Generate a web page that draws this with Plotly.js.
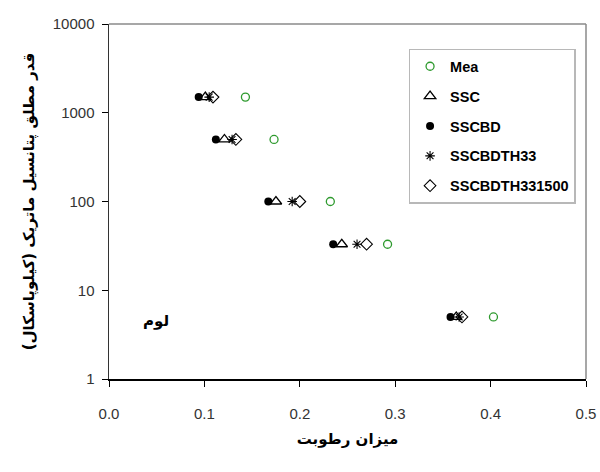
<!DOCTYPE html>
<html>
<head>
<meta charset="utf-8">
<script src="https://cdn.plot.ly/plotly-3.0.1.min.js"></script>
<style>html,body{margin:0;padding:0;background:#fff;}#chart{width:600px;height:472px;}</style>
</head>
<body>
<div id="chart"></div>
<script>
// Matric potential (kPa) levels
const potential = [1500, 500, 100, 33, 5];
// Moisture content for each series
const mea          = [0.143, 0.173, 0.232, 0.292, 0.403];
const ssc          = [0.101, 0.121, 0.175, 0.244, 0.364];
const sscbd        = [0.094, 0.112, 0.167, 0.235, 0.358];
const sscbdth33    = [0.105, 0.129, 0.192, 0.260, 0.367];
const sscbdth331500= [0.109, 0.133, 0.200, 0.270, 0.370];
const seriesNames = ["Mea", "SSC", "SSCBD", "SSCBDTH33", "SSCBDTH331500"];
const xTicks = [0, 0.1, 0.2, 0.3, 0.4, 0.5];
const xTickText = ["0.0", "0.1", "0.2", "0.3", "0.4", "0.5"];
const yTicks = [1, 10, 100, 1000, 10000];
const yTickText = ["1", "10", "100", "1000", "10000"];

const seriesX = [mea, ssc, sscbd, sscbdth33, sscbdth331500];
const styles = [
  {symbol: "circle-open", color: "#2e9a2e", size: 8, line: {color: "#2e9a2e", width: 1.3}},
  {symbol: "triangle-up-open", color: "#000", size: 10, line: {color: "#000", width: 1.3}},
  {symbol: "circle", color: "#000", size: 8, line: {color: "#000", width: 0}},
  {symbol: "asterisk-open", color: "#000", size: 8, line: {color: "#000", width: 1.1}},
  {symbol: "diamond-open", color: "#000", size: 9, line: {color: "#000", width: 1.1}}
];
const traces = seriesX.map((xs, i) => ({
  type: "scatter", mode: "markers", name: seriesNames[i],
  x: xs, y: potential, legendgroup: "g" + i,
  marker: {symbol: styles[i].symbol, color: styles[i].color, size: styles[i].size, line: styles[i].line},
  cliponaxis: false
}));

const tickFont = {family: "Liberation Sans, Arial, sans-serif", size: 15, color: "#333"};
const faFont = {family: "DejaVu Sans, Noto Sans, sans-serif", size: 15, color: "#000", weight: "bold"};

const layout = {
  width: 600, height: 472,
  margin: {l: 109, r: 14, t: 24, b: 93},
  paper_bgcolor: "#ffffff", plot_bgcolor: "#ffffff",
  font: {family: "Liberation Sans, Arial, sans-serif", size: 13, color: "#222"},
  showlegend: true,
  legend: {
    x: 0.628, y: 0.93, xanchor: "left", yanchor: "top",
    bgcolor: "#ffffff", bordercolor: "#b8b8b8", borderwidth: 1.5,
    font: {family: "Liberation Sans, Arial, sans-serif", size: 14.5, color: "#000", weight: "bold"},
    tracegroupgap: 8
  },
  xaxis: {
    range: [0, 0.5], tickvals: xTicks, ticktext: xTickText,
    showgrid: false, zeroline: false,
    showline: true, linecolor: "#000", linewidth: 2,
    ticks: "outside", ticklen: 6, tickcolor: "#000", tickwidth: 1,
    ticklabelstandoff: 14,
    tickfont: tickFont,
    title: {text: "میزان رطوبت", font: faFont, standoff: 12}
  },
  yaxis: {
    type: "log", range: [0, 4], tickvals: yTicks, ticktext: yTickText,
    showgrid: false, zeroline: false,
    showline: true, linecolor: "#333", linewidth: 1.5,
    ticks: "outside", ticklen: 6, tickcolor: "#000", tickwidth: 1,
    ticklabelstandoff: 4,
    tickfont: tickFont,
    title: {text: "قدر مطلق پتانسیل ماتریک (کیلوپاسکال)", font: faFont, standoff: 14}
  },
  shapes: [
    {type: "line", xref: "paper", yref: "paper", x0: 0, x1: 1, y0: 1, y1: 1, line: {color: "#8a8a8a", width: 1.5}},
    {type: "line", xref: "paper", yref: "paper", x0: 1, x1: 1, y0: 0, y1: 1, line: {color: "#8a8a8a", width: 1.5}}
  ],
  annotations: [
    {text: "لوم", xref: "paper", yref: "paper", x: 0.067, y: 0.132, showarrow: false,
     font: faFont}
  ]
};

Plotly.newPlot("chart", traces, layout, {displayModeBar: false, staticPlot: true});
</script>
</body>
</html>
